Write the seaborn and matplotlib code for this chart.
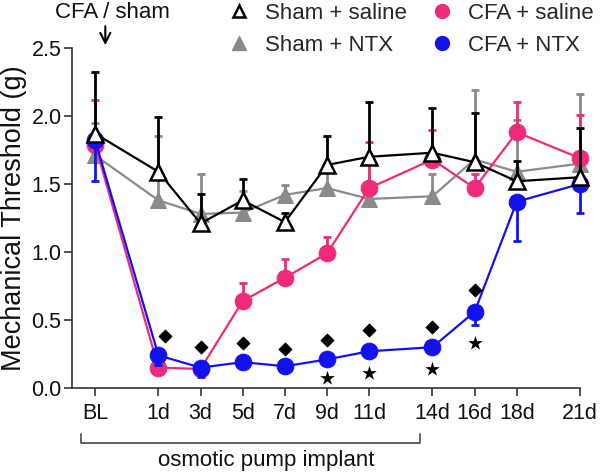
import matplotlib
matplotlib.use("Agg")
import matplotlib.pyplot as plt
import matplotlib.transforms as mtransforms
from matplotlib.lines import Line2D
import numpy as np
import pandas as pd
import seaborn as sns

# ---------------- data ----------------
days = [-2, 1, 3, 5, 7, 9, 11, 14, 16, 18, 21]
day_labels = ["BL", "1d", "3d", "5d", "7d", "9d", "11d", "14d", "16d", "18d", "21d"]

sham_saline = [1.87, 1.59, 1.21, 1.38, 1.22, 1.64, 1.70, 1.73, 1.66, 1.52, 1.55]
sham_saline_top = [2.32, 1.99, 1.43, 1.54, 1.29, 1.85, 2.10, 2.06, 2.02, 1.67, 1.91]

sham_ntx = [1.71, 1.38, 1.28, 1.29, 1.42, 1.47, 1.39, 1.41, 1.68, 1.59, 1.65]
sham_ntx_top = [1.95, 1.85, 1.57, 1.45, 1.49, 1.60, 1.65, 1.57, 2.19, 1.97, 2.16]

cfa_saline = [1.79, 0.15, 0.14, 0.64, 0.81, 0.99, 1.47, 1.68, 1.47, 1.88, 1.69]
cfa_saline_top = [2.12, 0.17, 0.16, 0.77, 0.95, 1.11, 1.81, 1.90, 1.57, 2.10, 2.01]

cfa_ntx = [1.82, 0.24, 0.15, 0.19, 0.16, 0.21, 0.27, 0.30, 0.56, 1.37, 1.50]
cfa_ntx_low = [1.52, 0.17, 0.08, 0.17, 0.14, 0.18, 0.24, 0.27, 0.46, 1.08, 1.29]

diamond_x = [1.3, 3, 5, 7, 9, 11, 14, 16]
diamond_y = [0.38, 0.30, 0.33, 0.29, 0.35, 0.43, 0.45, 0.72]
star_x = [9, 11, 14, 16]
star_y = [0.07, 0.11, 0.14, 0.33]

legend_labels = ["Sham + saline", "Sham + NTX", "CFA + saline", "CFA + NTX"]

# ---------------- style ----------------
sns.set_style("ticks")
plt.rcParams["font.family"] = ["Liberation Sans", "DejaVu Sans"]

BLACK = "#000000"
GRAY = "#8a8a8a"
PINK = "#ee2a7b"
BLUE = "#1212f0"

fig = plt.figure(figsize=(6.0, 4.72), dpi=100)
ax = fig.add_axes([72 / 600, 84 / 472, 508 / 600, 340 / 472])

x = np.array(days, dtype=float)

def up_err(vals, tops):
    v = np.array(vals); t = np.array(tops)
    return [np.zeros_like(v), t - v]

def down_err(vals, lows):
    v = np.array(vals); l = np.array(lows)
    return [v - l, np.zeros_like(v)]

# gray: sham + NTX
ax.errorbar(x, sham_ntx, yerr=up_err(sham_ntx, sham_ntx_top), fmt="none",
            ecolor=GRAY, elinewidth=2, capsize=3, capthick=2, zorder=2)
sns.lineplot(x=x, y=sham_ntx, ax=ax, color=GRAY, linewidth=1.6, marker="^",
             markersize=11, markeredgecolor=GRAY, markerfacecolor=GRAY, zorder=3)

# pink: CFA + saline
ax.errorbar(x, cfa_saline, yerr=up_err(cfa_saline, cfa_saline_top), fmt="none",
            ecolor=PINK, elinewidth=2, capsize=3, capthick=2, zorder=4)
sns.lineplot(x=x, y=cfa_saline, ax=ax, color=PINK, linewidth=1.6, marker="o",
             markersize=12, markeredgecolor=PINK, markerfacecolor=PINK, zorder=5)

# blue: CFA + NTX
ax.errorbar(x, cfa_ntx, yerr=down_err(cfa_ntx, cfa_ntx_low), fmt="none",
            ecolor=BLUE, elinewidth=2, capsize=3, capthick=2, zorder=6)
sns.lineplot(x=x, y=cfa_ntx, ax=ax, color=BLUE, linewidth=1.6, marker="o",
             markersize=12, markeredgecolor=BLUE, markerfacecolor=BLUE, zorder=7)

# black: sham + saline
ax.errorbar(x, sham_saline, yerr=up_err(sham_saline, sham_saline_top), fmt="none",
            ecolor=BLACK, elinewidth=2, capsize=3, capthick=2, zorder=8)
sns.lineplot(x=x, y=sham_saline, ax=ax, color=BLACK, linewidth=1.6, marker="^",
             markersize=11, markeredgecolor=BLACK, markerfacecolor="white",
             markeredgewidth=1.8, zorder=9)

# significance markers
sns.scatterplot(x=diamond_x, y=diamond_y, ax=ax, marker="D", s=45, color=BLACK,
                edgecolor=BLACK, zorder=10)
sns.scatterplot(x=star_x, y=star_y, ax=ax, marker="*", s=120, color=BLACK,
                edgecolor=BLACK, linewidth=0, zorder=10)

# do not clip marks at the axes edge
for art in ax.lines + ax.collections:
    art.set_clip_on(False)

# ---------------- axes ----------------
ax.set_xlim(-3.1, 21)
ax.set_ylim(0, 2.5)
ax.set_xticks(days)
ax.set_xticklabels(day_labels)
ax.set_yticks([0, 0.5, 1.0, 1.5, 2.0, 2.5])
ax.set_yticklabels(["0.0", "0.5", "1.0", "1.5", "2.0", "2.5"])
ax.tick_params(axis="both", labelsize=15.5, length=5.5, width=1.2, color="#333333",
               labelcolor="#111111")
ax.tick_params(axis="x", pad=5)
ax.tick_params(axis="y", pad=2)
for s in ["left", "bottom"]:
    ax.spines[s].set_linewidth(1.2)
    ax.spines[s].set_color("#333333")
sns.despine(ax=ax)
ax.set_ylabel("Mechanical Threshold (g)", fontsize=19.5, labelpad=3, color="#111111")
ax.set_xlabel("")
if ax.get_legend():
    ax.get_legend().remove()

# bracket for osmotic pump implant
trans = mtransforms.blended_transform_factory(ax.transData, ax.transAxes)
bx0, bx1 = -2.67, 13.4
ax.plot([bx0, bx0, bx1, bx1], [-0.135, -0.162, -0.162, -0.135], color="#555555",
        linewidth=1.3, transform=trans, clip_on=False)
ax.text(6.1, -0.229, "osmotic pump implant", transform=trans,
        ha="center", va="baseline", fontsize=16, color="#111111")

# CFA / sham annotation with arrow
ax.annotate("", xy=(-1.52, 2.50), xytext=(-1.52, 2.68),
            arrowprops=dict(arrowstyle="->", color="black", lw=1.5,
                            mutation_scale=18),
            annotation_clip=False)
fig.text(112 / 600, 1 - 12 / 472, "CFA / sham", ha="center", va="center",
         fontsize=16, color="#111111")

# legend
handles = [
    Line2D([], [], linestyle="none", marker="^", markersize=9, markerfacecolor="white",
           markeredgecolor=BLACK, markeredgewidth=1.8),
    Line2D([], [], linestyle="none", marker="^", markersize=10, markerfacecolor=GRAY,
           markeredgecolor=GRAY),
    Line2D([], [], linestyle="none", marker="o", markersize=10, markerfacecolor=PINK,
           markeredgecolor=PINK),
    Line2D([], [], linestyle="none", marker="o", markersize=10, markerfacecolor=BLUE,
           markeredgecolor=BLUE),
]
fig.legend(handles, legend_labels, ncol=2, loc="upper left",
           bbox_to_anchor=(228 / 600, 1 - 3 / 472), frameon=False, fontsize=16,
           handlelength=1.0, handletextpad=0.65, columnspacing=1.1,
           labelspacing=0.5, borderpad=0, borderaxespad=0)

fig.savefig("out.png", dpi=100)
